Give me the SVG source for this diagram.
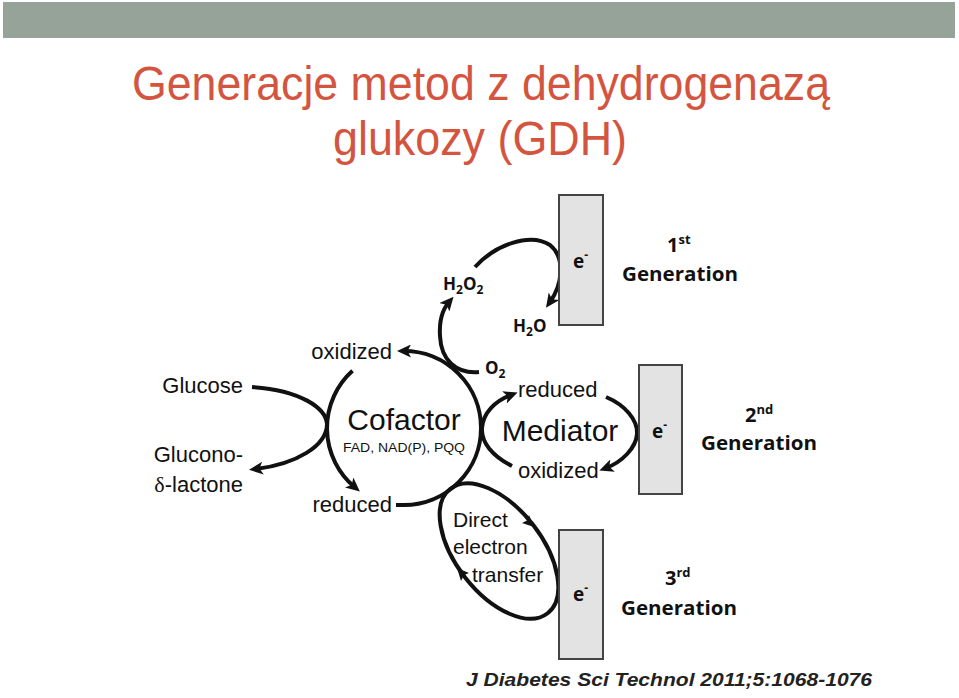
<svg xmlns="http://www.w3.org/2000/svg" width="959" height="698" viewBox="0 0 959 698">
<style>
.t{font-family:"Liberation Sans",Arial,sans-serif;fill:#111}
.c{font-family:"Open Sans","Liberation Sans",sans-serif;font-weight:bold;fill:#111}
.ln{fill:none;stroke:#111;stroke-width:4;stroke-linecap:butt}
.el{fill:#e3e3e3;stroke:#444;stroke-width:2}
.title{font-family:"Liberation Sans",Arial,sans-serif;fill:#d4553f;font-size:48px}
.sh{fill:#111}
</style>
<defs>
<marker id="ah" markerUnits="userSpaceOnUse" markerWidth="14" markerHeight="13" viewBox="0 0 14 13" refX="7" refY="6.5" orient="auto">
<path d="M0,0 L14,6.5 L0,13 L3.5,6.5 z" fill="#111"/>
</marker>
</defs>
<rect x="3" y="2" width="952" height="36" fill="#95a398"/>
<g id="title">
<text class="title" x="481" y="100" text-anchor="middle" textLength="698" lengthAdjust="spacingAndGlyphs">Generacje metod z dehydrogenazą</text>
<text class="title" x="480" y="155" text-anchor="middle" textLength="294" lengthAdjust="spacingAndGlyphs">glukozy (GDH)</text>
</g>
<g id="connectors">
<path class="ln" d="M252 387 C300 390,326 408,327 424 C327 446,296 464,256 469" marker-end="url(#ah)"/>
<path class="ln" d="M352.5 370.8 A77 77 0 0 0 354.5 487" marker-end="url(#ah)"/>
<path class="ln" d="M396 505 L404 505 A77 77 0 0 0 481 428 A77 77 0 0 0 404 351" marker-end="url(#ah)"/>
<path class="ln" d="M479 372 C456 374,441 360,440 336 C439 320,443 309,449 302" marker-end="url(#ah)"/>
<path class="ln" d="M475 267 C495 245,530 232,550 245 C566 258,562 285,550 302" marker-end="url(#ah)"/>
<path class="ln" d="M512 466 C492 456,481 442,482 428 C483 413,495 401,511 395" marker-end="url(#ah)"/>
<path class="ln" d="M606 397 C625 405,638 420,637 434 C636 448,622 462,606 468" marker-end="url(#ah)"/>
<ellipse class="ln" cx="499" cy="551" rx="79" ry="43" transform="rotate(52 499 551)"/>
<path class="sh" d="M534 527 L522 523 L527 520.5 L529 515 z"/>
<path class="sh" d="M457 568 L469 573 L464 575 L461 581 z"/>
</g>
<g id="electrode1">
<rect class="el" x="559" y="195" width="44" height="130"/>
<text class="c" x="573" y="268" font-size="19">e<tspan font-size="12" dy="-9">-</tspan></text>
</g>
<g id="electrode2">
<rect class="el" x="639" y="365" width="43" height="129"/>
<text class="c" x="652" y="438" font-size="19">e<tspan font-size="12" dy="-9">-</tspan></text>
</g>
<g id="electrode3">
<rect class="el" x="559" y="530" width="44" height="129"/>
<text class="c" x="573" y="601" font-size="19">e<tspan font-size="12" dy="-9">-</tspan></text>
</g>
<g id="gen1">
<text class="c" x="667" y="252" font-size="20">1<tspan font-size="13" dy="-8">st</tspan></text>
<text class="c" x="622" y="281" font-size="19" textLength="116" lengthAdjust="spacingAndGlyphs">Generation</text>
</g>
<g id="gen2">
<text class="c" x="745" y="422" font-size="20">2<tspan font-size="13" dy="-8">nd</tspan></text>
<text class="c" x="701" y="450" font-size="19" textLength="116" lengthAdjust="spacingAndGlyphs">Generation</text>
</g>
<g id="gen3">
<text class="c" x="665" y="585" font-size="20">3<tspan font-size="13" dy="-8">rd</tspan></text>
<text class="c" x="621" y="615" font-size="19" textLength="116" lengthAdjust="spacingAndGlyphs">Generation</text>
</g>
<g id="cofactor">
<text class="t" x="404" y="430" font-size="30" text-anchor="middle">Cofactor</text>
<text class="t" x="404" y="452" font-size="12" text-anchor="middle" textLength="122" lengthAdjust="spacingAndGlyphs">FAD, NAD(P), PQQ</text>
</g>
<g id="mediator">
<text class="t" x="560" y="441" font-size="30" text-anchor="middle">Mediator</text>
</g>
<g id="labels">
<text class="t" x="392" y="359" font-size="22" text-anchor="end">oxidized</text>
<text class="t" x="392" y="512" font-size="22" text-anchor="end">reduced</text>
<text class="t" x="243" y="393" font-size="22" text-anchor="end">Glucose</text>
<text class="t" x="243" y="462" font-size="22" text-anchor="end">Glucono-</text>
<text class="t" x="243" y="492" font-size="22" text-anchor="end"><tspan font-family="'Liberation Serif',serif">δ</tspan>-lactone</text>
<text class="t" x="518" y="397" font-size="22">reduced</text>
<text class="t" x="518" y="478" font-size="22">oxidized</text>
<text class="t" x="453" y="527" font-size="21">Direct</text>
<text class="t" x="453" y="554" font-size="21">electron</text>
<text class="t" x="472" y="582" font-size="21">transfer</text>
<text class="c" x="443" y="290" font-size="17">H<tspan font-size="12" dy="4">2</tspan><tspan dy="-4">O</tspan><tspan font-size="12" dy="4">2</tspan></text>
<text class="c" x="513" y="332" font-size="17">H<tspan font-size="12" dy="4">2</tspan><tspan dy="-4">O</tspan></text>
<text class="c" x="485" y="374" font-size="17">O<tspan font-size="12" dy="4">2</tspan></text>
</g>
<text x="466" y="686" font-family="'Liberation Sans',Arial,sans-serif" font-weight="bold" font-style="italic" font-size="18" fill="#222" textLength="406" lengthAdjust="spacingAndGlyphs">J Diabetes Sci Technol 2011;5:1068-1076</text>
</svg>
